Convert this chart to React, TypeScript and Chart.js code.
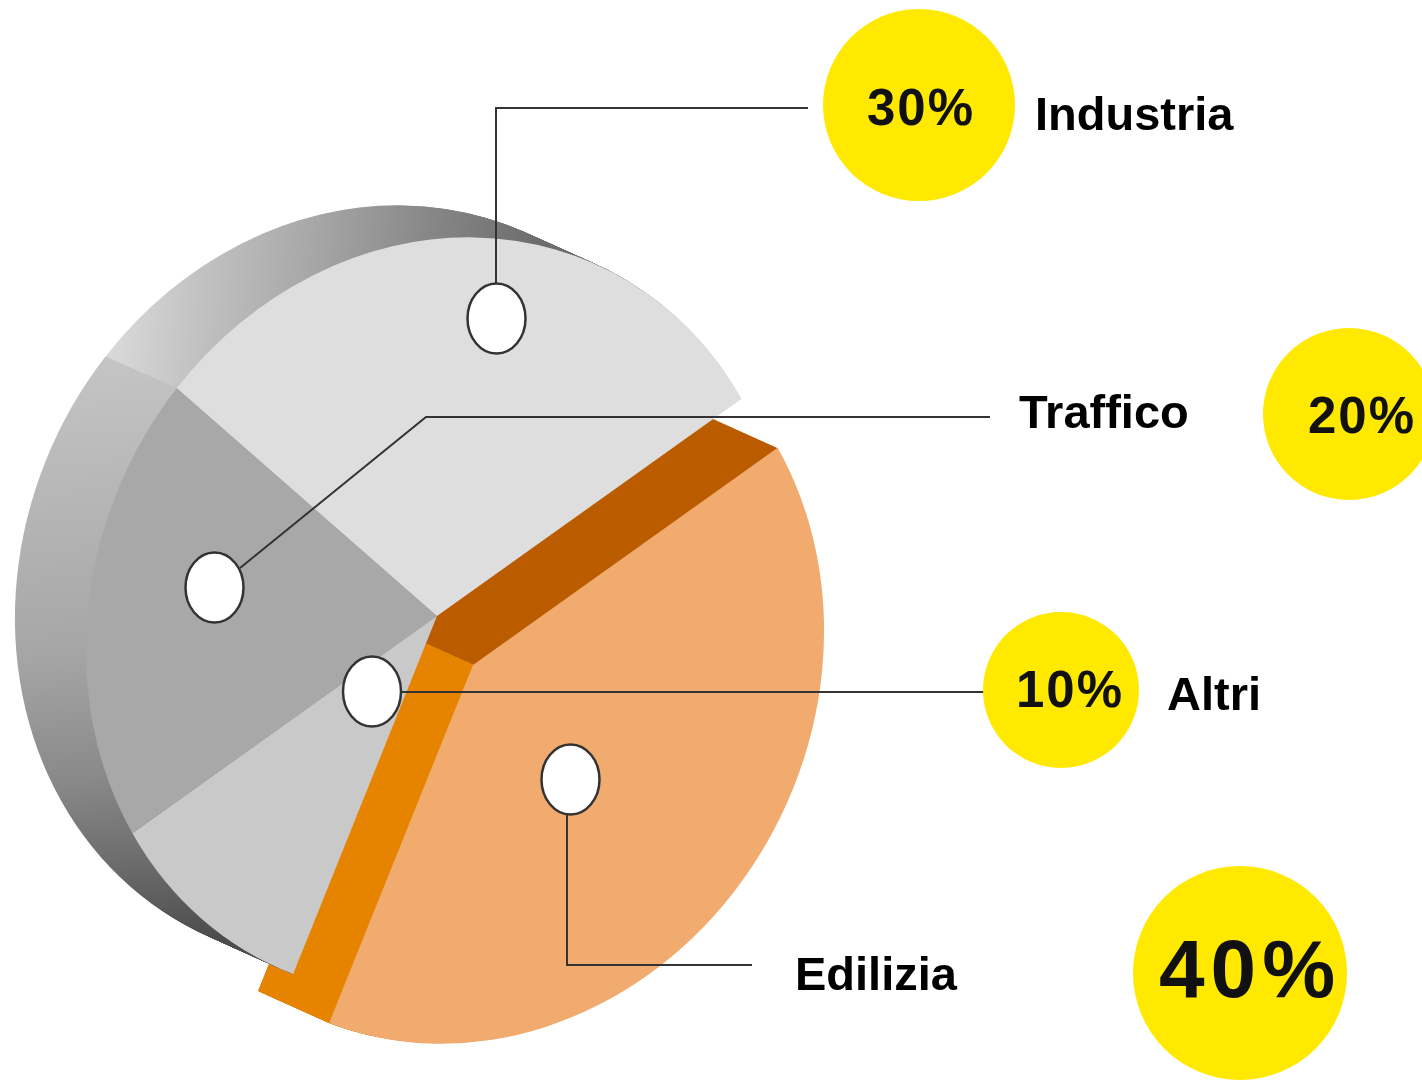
import React, { useEffect, useRef } from "react";
import { Chart, registerables } from "chart.js";

Chart.register(...registerables);

// Emission shares by sector, clockwise from the detached slice
const categories = ["Edilizia", "Altri", "Traffico", "Industria"];
const shares = [40, 10, 20, 30];
const faceColors = ["#f1ab6e", "#c9c9c9", "#a8a8a8", "#dedede"];

// Disc geometry on the canvas
const WIDTH = 1422;
const HEIGHT = 1080;
const disc = {
  centerX: 437,
  centerY: 616,
  major: 386,
  minor: 343,
  tiltDeg: 25,
  startDeg: 32.5,
  depthX: -71,
  depthY: -32,
  steps: 80,
  explodeX: 36,
  explodeY: 49,
};

const cutFaceDark = "#bb5c00";
const cutFaceLight = "#e68400";

// Shaded side wall of the grey slices: position along the screen axis, grey stop
const wallTopStops: [number, string][] = [
  [0, "#dcdcdc"],
  [0.22, "#c2c2c2"],
  [0.5, "#a4a4a4"],
  [0.75, "#868686"],
  [1, "#6c6c6c"],
];
const wallLeftStops: [number, string][] = [
  [0, "#c6c6c6"],
  [0.25, "#b6b6b6"],
  [0.5, "#a6a6a6"],
  [0.72, "#888888"],
  [0.87, "#6a6a6a"],
  [1, "#4c4c4c"],
];

// Callouts, in the same order as the categories
const bubbles = [
  { x: 1240, y: 973, r: 107, size: 82, spacing: 6, tx: 1250, ty: 997 },
  { x: 1061, y: 690, r: 78, size: 51, spacing: 2, tx: 1070, ty: 707 },
  { x: 1349, y: 414, r: 86, size: 51, spacing: 2, tx: 1362, ty: 433 },
  { x: 919, y: 105, r: 96, size: 51, spacing: 2, tx: 921, ty: 125 },
];
const labelSpots = [
  { x: 795, y: 990 },
  { x: 1167, y: 710 },
  { x: 1019, y: 428 },
  { x: 1035, y: 130 },
];
const pins = [
  { x: 570.5, y: 779.5 },
  { x: 372, y: 691.5 },
  { x: 214.5, y: 587.5 },
  { x: 496.5, y: 318.5 },
];
const leaders: [number, number][][] = [
  [[567, 815], [567, 965], [752, 965]],
  [[400, 692], [985, 692]],
  [[240, 568], [426, 417], [990, 417]],
  [[496, 283], [496, 108], [808, 108]],
];

const piePlugin = {
  id: "extrudedPie",
  beforeDatasetsDraw(chart: any) {
    const ctx: CanvasRenderingContext2D = chart.ctx;
    const arcs: any[] = chart.getDatasetMeta(0).data;
    const R: number = arcs[0].outerRadius;
    const cx: number = arcs[0].x;
    const cy: number = arcs[0].y;
    const t = (disc.tiltDeg * Math.PI) / 180;
    const sx = disc.minor / R;
    const sy = disc.major / R;
    const m = [sx * Math.cos(t), sx * Math.sin(t), -sy * Math.sin(t), sy * Math.cos(t)];

    const enter = (ox: number, oy: number) => {
      ctx.save();
      ctx.translate(disc.centerX + ox, disc.centerY + oy);
      ctx.transform(m[0], m[1], m[2], m[3], 0, 0);
      ctx.translate(-cx, -cy);
    };
    const paint = (arc: any, fill: any) => {
      const ghost = Object.create(arc);
      ghost.options = { ...arc.options, backgroundColor: fill };
      ghost.draw(ctx);
    };
    // Gradient given in canvas pixels, expressed in the current transformed space
    const screenGradient = (x0: number, y0: number, x1: number, y1: number, stops: [number, string][]) => {
      const inv = ctx.getTransform().inverse();
      const a = inv.transformPoint(new DOMPoint(x0, y0));
      const b = inv.transformPoint(new DOMPoint(x1, y1));
      const g = ctx.createLinearGradient(a.x, a.y, b.x, b.y);
      stops.forEach(([p, c]) => g.addColorStop(p, c));
      return g;
    };
    const project = (angle: number, ox: number, oy: number) => {
      const lx = R * Math.cos(angle);
      const ly = R * Math.sin(angle);
      return [
        disc.centerX + ox + m[0] * lx + m[2] * ly,
        disc.centerY + oy + m[1] * lx + m[3] * ly,
      ];
    };

    // Detached slice: its two cut faces, then its front face
    const ex = disc.explodeX;
    const ey = disc.explodeY;
    for (let i = disc.steps; i >= 1; i--) {
      const f = i / disc.steps;
      enter(ex + disc.depthX * f, ey + disc.depthY * f);
      paint(arcs[0], cutFaceDark);
      ctx.restore();
    }
    const apex = [disc.centerX + ex, disc.centerY + ey];
    const tip = project(arcs[0].endAngle, ex, ey);
    ctx.save();
    ctx.beginPath();
    ctx.moveTo(apex[0], apex[1]);
    ctx.lineTo(apex[0] + 4 * disc.depthX, apex[1] + 4 * disc.depthY);
    ctx.lineTo(tip[0] + 4 * disc.depthX, tip[1] + 4 * disc.depthY + 200);
    ctx.lineTo(tip[0], tip[1] + 200);
    ctx.closePath();
    ctx.clip();
    for (let i = disc.steps; i >= 1; i--) {
      const f = i / disc.steps;
      enter(ex + disc.depthX * f, ey + disc.depthY * f);
      paint(arcs[0], cutFaceLight);
      ctx.restore();
    }
    ctx.restore();
    enter(ex, ey);
    paint(arcs[0], faceColors[0]);
    ctx.restore();

    // Grey slices: shaded side wall, then front faces
    for (let i = disc.steps; i >= 1; i--) {
      const f = i / disc.steps;
      enter(disc.depthX * f, disc.depthY * f);
      paint(arcs[1], screenGradient(0, 355, 0, 960, wallLeftStops));
      paint(arcs[2], screenGradient(0, 355, 0, 960, wallLeftStops));
      paint(arcs[3], screenGradient(130, 0, 560, 0, wallTopStops));
      ctx.restore();
    }
    enter(0, 0);
    [1, 2, 3].forEach((k) => paint(arcs[k], faceColors[k]));
    ctx.restore();

    // Leader lines, pins, value bubbles and sector names
    ctx.save();
    ctx.strokeStyle = "#333333";
    ctx.lineWidth = 2;
    ctx.lineJoin = "miter";
    leaders.forEach((points) => {
      ctx.beginPath();
      points.forEach(([x, y], n) => (n ? ctx.lineTo(x, y) : ctx.moveTo(x, y)));
      ctx.stroke();
    });
    pins.forEach((p) => {
      ctx.beginPath();
      ctx.ellipse(p.x, p.y, 29, 35, 0, 0, Math.PI * 2);
      ctx.fillStyle = "#ffffff";
      ctx.fill();
      ctx.lineWidth = 2.5;
      ctx.stroke();
    });
    bubbles.forEach((b, k) => {
      ctx.beginPath();
      ctx.arc(b.x, b.y, b.r, 0, Math.PI * 2);
      ctx.fillStyle = "#ffe900";
      ctx.fill();
      ctx.fillStyle = "#111111";
      ctx.textAlign = "center";
      ctx.textBaseline = "alphabetic";
      ctx.font = `bold ${b.size}px "Liberation Sans"`;
      (ctx as any).letterSpacing = `${b.spacing}px`;
      ctx.fillText(`${shares[k]}%`, b.tx, b.ty);
    });
    (ctx as any).letterSpacing = "0px";
    ctx.fillStyle = "#000000";
    ctx.textAlign = "left";
    ctx.font = 'bold 47px "Liberation Sans"';
    labelSpots.forEach((s, k) => ctx.fillText(categories[k], s.x, s.y));
    ctx.restore();
    return false;
  },
};

export default function App() {
  const canvasRef = useRef<HTMLCanvasElement | null>(null);

  useEffect(() => {
    const chart = new Chart(canvasRef.current as HTMLCanvasElement, {
      type: "pie",
      data: {
        labels: categories,
        datasets: [{ data: shares, backgroundColor: faceColors, borderWidth: 0 }],
      },
      options: {
        responsive: false,
        animation: false,
        events: [],
        rotation: disc.startDeg,
        radius: 300,
        layout: { padding: 0 },
        plugins: { legend: { display: false }, tooltip: { enabled: false } },
      },
      plugins: [piePlugin],
    } as any);
    return () => chart.destroy();
  }, []);

  return (
    <div style={{ position: "absolute", left: 0, top: 0, width: WIDTH, height: HEIGHT, overflow: "hidden", background: "#ffffff" }}>
      <canvas ref={canvasRef} width={WIDTH} height={HEIGHT} style={{ display: "block" }} />
    </div>
  );
}
